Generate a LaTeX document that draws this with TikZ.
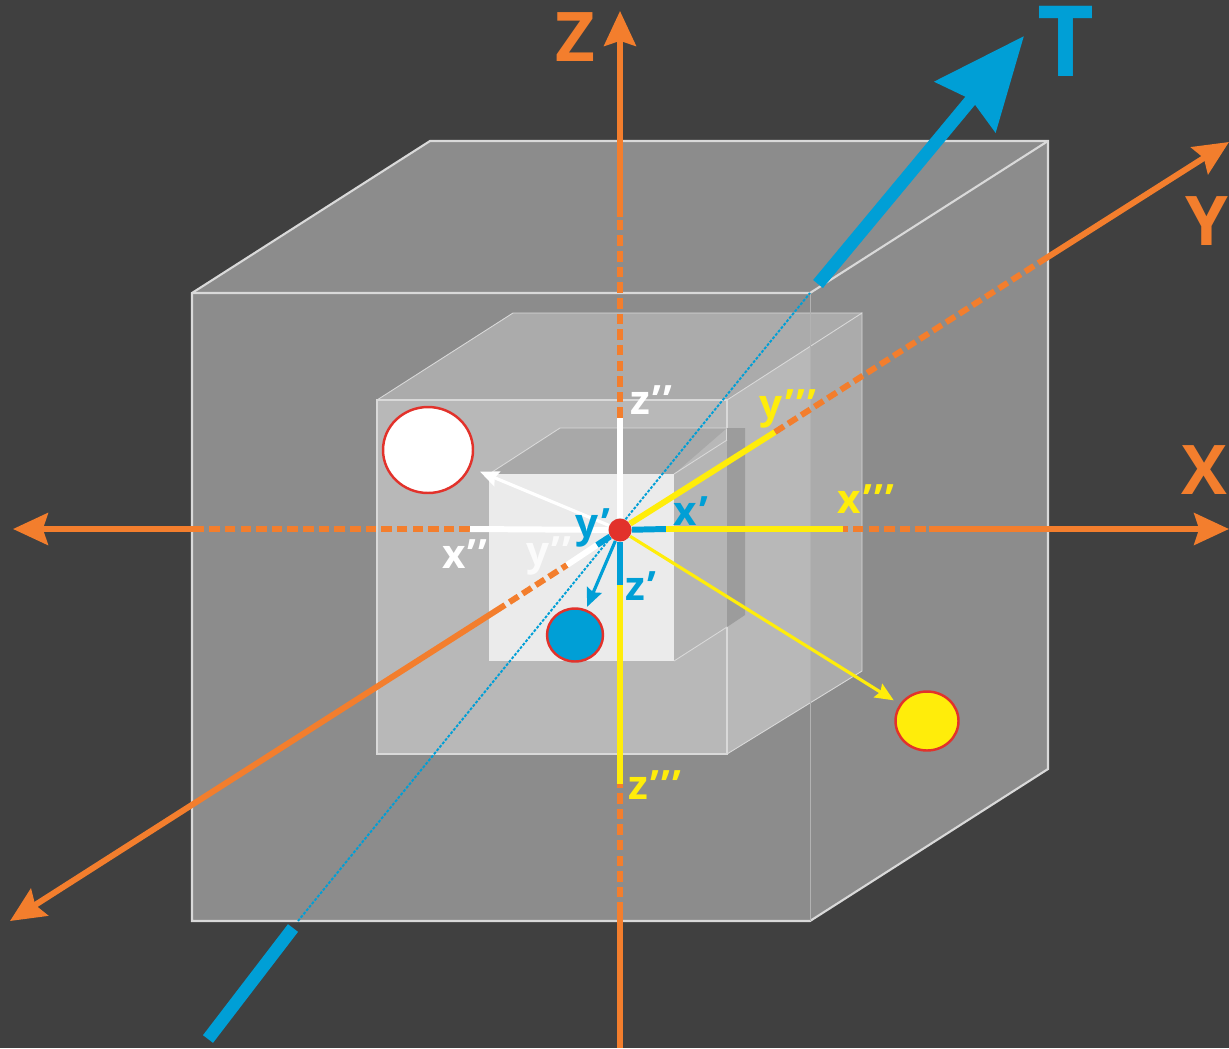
\documentclass[tikz,border=0pt]{standalone}
\usepackage{fontspec}
\setmainfont{Open Sans}
\usepackage{xcolor}
\usetikzlibrary{shapes.geometric, arrows.meta}

\definecolor{bgdark}{HTML}{404040}
\definecolor{axisorange}{HTML}{F37E2D}
\definecolor{tblue}{HTML}{009FD6}
\definecolor{markyellow}{HTML}{FFED0A}
\definecolor{dotred}{HTML}{E2322B}

\newcommand{\primemark}{\kern1.3pt’}

\begin{document}
\begin{tikzpicture}[x=0.02cm, y=-0.02cm,
    orangetip/.tip={Stealth[length=19.8pt, width=18pt, inset=2.8pt]},
    smalltip/.tip={Stealth[length=10.5pt, width=9pt, inset=1.5pt]},
    axisline/.style={draw=axisorange, line width=3.4pt},
    axisdash/.style={axisline, dash pattern=on 6pt off 2.9pt},
    segline/.style={line width=3.4pt},
    pointer/.style={line width=1.8pt, -{smalltip}},
    cubeedge/.style={draw=white!85!black, line width=1.2pt},
    thinedge/.style={draw=white!85!black, line width=0.5pt},
    ball/.style={draw=dotred, line width=1.4pt, ellipse, inner sep=0pt},
    biglabel/.style={text=axisorange, font=\bfseries\fontsize{39}{39}\selectfont, inner sep=0pt},
    smalllabel/.style={font=\bfseries\fontsize{23}{23}\selectfont, inner sep=0pt}]

    \useasboundingbox (0,0) rectangle (1229,1048);
    \fill [bgdark] (0,0) rectangle (1229,1048);

    % outer cube
    \fill [black!45] (192,293) -- (430,141) -- (1048,141) -- (1048,769) -- (810,921) -- (192,921) -- cycle;
    \draw [cubeedge] (192,293) -- (430,141) -- (1048,141) -- (1048,769) -- (810,921) -- (192,921) -- cycle;
    \draw [cubeedge] (192,293) -- (810,293) -- (1048,141);

    % middle cube
    \fill [black!33] (377,400) -- (513,313) -- (862,313) -- (862,671) -- (727,754) -- (377,754) -- cycle;
    \fill [black!28] (377,400) rectangle (727,754);
    \fill [black!28] (727,400) -- (810,346) -- (810,703) -- (727,754) -- cycle;
    \draw [thinedge] (727,400) -- (862,313) -- (862,671) -- (727,754);
    \draw [thinedge] (377,400) -- (513,313) -- (862,313);
    \draw [cubeedge] (377,400) rectangle (727,754);

    % inner cube
    \fill [black!34] (489,474) -- (560,428) -- (727,428) -- (674,474) -- cycle;
    \fill [black!29] (674,474) -- (727,440) -- (727,627) -- (674,661) -- cycle;
    \fill [black!39] (727,428) -- (745,428) -- (745,615) -- (727,627) -- cycle;
    \fill [black!8] (489,474) rectangle (674,661);
    \draw [thinedge] (489,474) -- (560,428) -- (727,428);
    \draw [thinedge] (674,474) -- (727,440);
    \draw [thinedge] (674,661) -- (727,627);
    \draw [thinedge, white!70!black] (810,293) -- (810,921);

    \coordinate (zbottom) at (620,1048);
    \coordinate (zlow) at (620,913);
    \coordinate (zyel) at (620,784);
    \coordinate (zblue) at (620,585);
    \coordinate (zwhite) at (620,418);
    \coordinate (zhigh) at (620,217);
    \coordinate (ztop) at (620,11);

    \coordinate (xleft) at (13,529);
    \coordinate (xlow) at (201,529);
    \coordinate (xwhite) at (470,529);
    \coordinate (xblue) at (666,529);
    \coordinate (xyel) at (843,529);
    \coordinate (xhigh) at (929,529);
    \coordinate (xright) at (1229,529);

    \coordinate (yleft) at (10,921);
    \coordinate (ylow) at (505,605);
    \coordinate (ywhite) at (567,565);
    \coordinate (yblue) at (597,545);
    \coordinate (yyel) at (775,432);
    \coordinate (yhigh) at (1040,262);
    \coordinate (yright) at (1229,142);

    \coordinate (tlow) at (208,1039);
    \coordinate (tmid) at (293,928);
    \coordinate (dotlow) at (298,921);
    \coordinate (dothigh) at (810,293);
    \coordinate (thigh) at (818,284);
    \coordinate (ttip) at (1024,36);

    % T axis
    \draw [tblue, line width=7.2pt] (tlow) -- (tmid);
    \draw [tblue, line width=1.1pt, dash pattern=on 1.6pt off 0.9pt] (dotlow) -- (dothigh);
    \draw [tblue, line width=7.2pt, -{Stealth[length=52pt, width=44pt, inset=5pt]}] (thigh) -- (ttip);

    \node [circle, fill=dotred, minimum size=0.46cm, inner sep=0pt] (center) at (620,530) {};

    \node [ball, fill=white, minimum width=1.8cm, minimum height=1.72cm] (ballwhite) at (428,450) {};
    \node [ball, fill=tblue, minimum width=1.12cm, minimum height=1.06cm] (ballblue) at (575,635) {};
    \node [ball, fill=markyellow, minimum width=1.26cm, minimum height=1.18cm] (ballyellow) at (927,721) {};

    % Z axis
    \draw [axisline] (zbottom) -- (zlow);
    \draw [axisdash] (zlow) -- (zyel);
    \draw [segline, markyellow] (zyel) -- (zblue);
    \draw [segline, tblue] (zblue) -- (center);
    \draw [segline, white] (center) -- (zwhite);
    \draw [axisdash] (zwhite) -- (zhigh);
    \draw [axisline, -{orangetip}] (zhigh) -- (ztop);

    % X axis
    \draw [axisline, -{orangetip}] (xlow) -- (xleft);
    \draw [axisdash] (xwhite) -- (xlow);
    \draw [segline, white] (xwhite) -- (center);
    \draw [segline, tblue] (center) -- (xblue);
    \draw [segline, markyellow] (xblue) -- (xyel);
    \draw [axisdash] (xhigh) ++(-3,0) -- (xyel);
    \draw [axisline, -{orangetip}] (xhigh) -- (xright);

    % Y axis
    \draw [axisline, -{orangetip}] (ylow) -- (yleft);
    \draw [axisdash, shorten <=3pt] (ylow) -- (ywhite);
    \draw [segline, white] (ywhite) -- (yblue);
    \draw [segline, tblue] (yblue) -- (center);
    \draw [segline, markyellow] (center) -- (yyel);
    \draw [axisdash] (yyel) -- (yhigh);
    \draw [axisline, -{orangetip}] (yhigh) -- (yright);

    % pointers to the balls
    \draw [pointer, white, shorten >=6pt] (center) -- (ballwhite);
    \draw [pointer, tblue, shorten >=1.5pt] (center) -- (ballblue);
    \draw [pointer, markyellow, shorten >=4pt] (center) -- (ballyellow);

    \node [biglabel] (labelz) at (575,37) {Z};
    \node [biglabel, text=tblue, font=\bfseries\fontsize{56}{56}\selectfont] (labelt) at (1066,41) {T};
    \node [biglabel] (labely) at (1207,221) {Y};
    \node [biglabel] (labelx) at (1204,470) {X};

    \node [smalllabel, text=white] (labelxb) at (465,554) {x\primemark\primemark};
    \node [smalllabel, text=white, opacity=0.8] (labelyb) at (549,556) {y\primemark\primemark};
    \node [smalllabel, text=white] (labelzb) at (651,400) {z\primemark\primemark};

    \node [smalllabel, text=tblue] (labelya) at (593,528) {y\primemark};
    \node [smalllabel, text=tblue] (labelxa) at (691,511) {x\primemark};
    \node [smalllabel, text=tblue] (labelza) at (641,586) {z\primemark};

    \node [smalllabel, text=markyellow] (labelyc) at (788,409) {y\primemark\primemark\primemark};
    \node [smalllabel, text=markyellow] (labelxc) at (866,499) {x\primemark\primemark\primemark};
    \node [smalllabel, text=markyellow] (labelzc) at (655,785) {z\primemark\primemark\primemark};
\end{tikzpicture}
\end{document}
